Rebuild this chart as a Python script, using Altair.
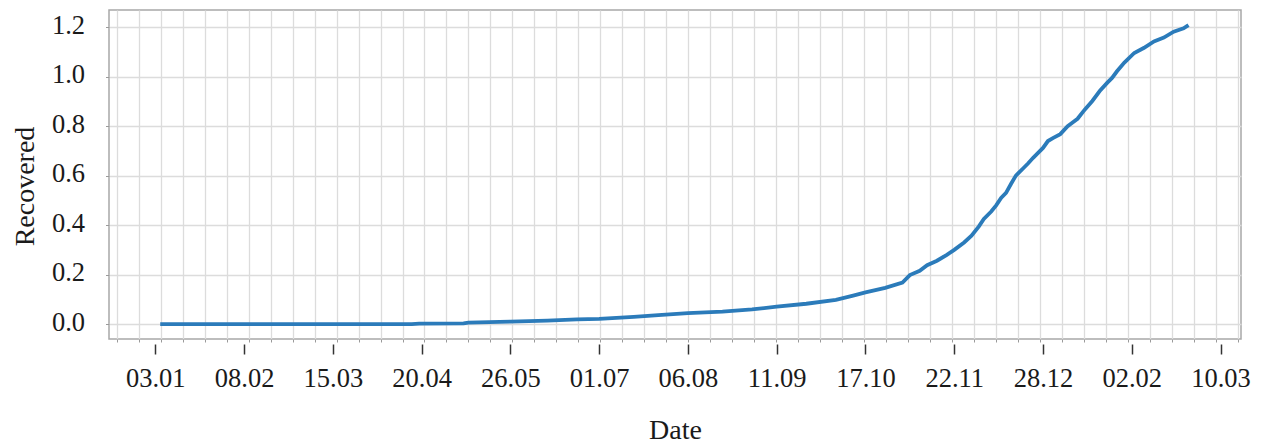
import altair as alt
import pandas as pd

# ---- data ----
dates = [
    "2020-01-05", "2020-02-15", "2020-03-20", "2020-04-16", "2020-04-19",
    "2020-05-07", "2020-05-09", "2020-05-26", "2020-06-10", "2020-06-22",
    "2020-07-01", "2020-07-15", "2020-07-25", "2020-08-06", "2020-08-20",
    "2020-09-01", "2020-09-11", "2020-09-23", "2020-10-05", "2020-10-12",
    "2020-10-17", "2020-10-25", "2020-11-01", "2020-11-04", "2020-11-08",
    "2020-11-11", "2020-11-15", "2020-11-19", "2020-11-22", "2020-11-26",
    "2020-11-29", "2020-12-02", "2020-12-04", "2020-12-07", "2020-12-09",
    "2020-12-11", "2020-12-13", "2020-12-15", "2020-12-17", "2020-12-20",
    "2020-12-22", "2020-12-24", "2020-12-26", "2020-12-28", "2020-12-30",
    "2021-01-01", "2021-01-04", "2021-01-07", "2021-01-09", "2021-01-11",
    "2021-01-14", "2021-01-17", "2021-01-20", "2021-01-23", "2021-01-25",
    "2021-01-27", "2021-01-30", "2021-02-03", "2021-02-07", "2021-02-11",
    "2021-02-15", "2021-02-19", "2021-02-23", "2021-02-25",
]
recovered = [
    0.0, 0.0, 0.0, 0.0, 0.002,
    0.003, 0.006, 0.010, 0.014, 0.019,
    0.021, 0.029, 0.036, 0.044, 0.050,
    0.059, 0.070, 0.082, 0.098, 0.115,
    0.128, 0.146, 0.168, 0.198, 0.215,
    0.238, 0.256, 0.280, 0.300, 0.330,
    0.357, 0.395, 0.425, 0.455, 0.480,
    0.510, 0.530, 0.566, 0.600, 0.630,
    0.650, 0.672, 0.692, 0.712, 0.740,
    0.752, 0.768, 0.800, 0.815, 0.830,
    0.868, 0.902, 0.942, 0.975, 0.995,
    1.022, 1.057, 1.096, 1.117, 1.143,
    1.158, 1.182, 1.196, 1.209,
]

major_ticks = [
    "2020-01-03", "2020-02-08", "2020-03-15", "2020-04-20", "2020-05-26",
    "2020-07-01", "2020-08-06", "2020-09-11", "2020-10-17", "2020-11-22",
    "2020-12-28", "2021-02-02", "2021-03-10",
]
grid_start = "2019-12-18T08:00:00"
grid_step = "214h"
grid_count = 52
y_ticks = [0.0, 0.2, 0.4, 0.6, 0.8, 1.0, 1.2]
x_domain = ["2019-12-15T05:18:00", "2021-03-18T07:00:00"]
y_domain = [-0.0605, 1.2698]

FONT = "Liberation Serif"
LINE_COLOR = "#2b7bba"
GRID_COLOR = "#dcdcdc"


def dt(s):
    t = pd.Timestamp(s)
    return alt.DateTime(year=t.year, month=t.month, date=t.day,
                        hours=t.hour, minutes=t.minute, utc=True)


grid_dates = pd.date_range(grid_start, periods=grid_count, freq=grid_step)

df = pd.DataFrame({"date": dates, "recovered": recovered})

x_scale = alt.Scale(type="utc", domain=[dt(x_domain[0]), dt(x_domain[1])], nice=False)

y_enc = alt.Y(
    "recovered:Q",
    scale=alt.Scale(domain=y_domain, zero=False, nice=False),
    axis=alt.Axis(
        values=y_ticks, format=".1f", grid=True, gridColor=GRID_COLOR, gridWidth=1.3,
        domain=False, tickSize=3.5, tickColor="#9a9a9a", tickWidth=1,
        labelFont=FONT, labelFontSize=26.5, labelColor="#1a1a1a",
        labelPadding=21, labelOffset=-2,
        title="Recovered", titleFont=FONT, titleFontSize=28, titleFontWeight="normal",
        titleColor="#1a1a1a", titleX=-76, titleY=176, titleAngle=270,
        titleBaseline="alphabetic", titleAlign="center",
    ),
)

minor_layer = alt.Chart(df).mark_line(color=LINE_COLOR, strokeWidth=3.8).encode(
    x=alt.X(
        "date:T", scale=x_scale,
        axis=alt.Axis(
            values=[dt(g) for g in grid_dates], grid=True, gridColor=GRID_COLOR,
            gridWidth=1.3, ticks=True, tickSize=3, tickColor="#9a9a9a", labels=False,
            domain=False, title=None, orient="bottom",
        ),
    ),
    y=y_enc,
)

major_layer = alt.Chart(df).mark_line(opacity=0).encode(
    x=alt.X(
        "date:T", scale=x_scale,
        axis=alt.Axis(
            values=[dt(m) for m in major_ticks],
            labelExpr="utcFormat(datum.value, '%d.%m')",
            grid=False, domain=False, offset=5, tickSize=10, tickWidth=1.5,
            tickColor="#333333", labelFont=FONT, labelFontSize=26.5,
            labelColor="#1a1a1a", labelPadding=11, labelFlush=False, labelOverlap=False,
            title="Date", titleFont=FONT, titleFontSize=28, titleFontWeight="normal",
            titleColor="#1a1a1a", titleX=566, titleY=94, titleBaseline="alphabetic",
            titleAlign="center", orient="bottom",
        ),
    ),
    y=y_enc,
)

chart = (
    alt.layer(minor_layer, major_layer)
    .resolve_axis(x="independent")
    .properties(
        width=1132, height=329,
        autosize=alt.AutoSizeParams(type="none"),
        padding={"left": 109, "top": 10, "right": 23, "bottom": 106},
        background="white",
    )
    .configure_view(stroke="#a8a8a8", strokeWidth=1.5)
)

chart.save("out.html", embed_options={"renderer": "svg", "actions": False})
